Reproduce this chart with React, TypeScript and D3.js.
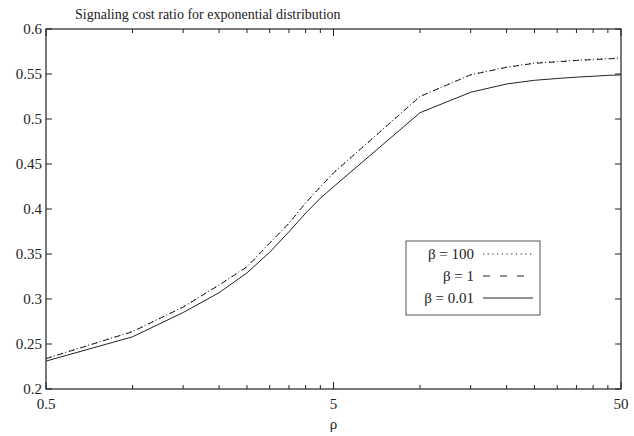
import React from 'react';
import * as d3 from 'd3';

// rho values (log axis)
const rho = [0.5, 1, 1.5, 2, 2.5, 3, 3.5, 4, 4.5, 5, 10, 15, 20, 25, 30, 35, 40, 45, 50];
const beta100 = [0.2340, 0.2640, 0.2913, 0.3158, 0.3360, 0.3623, 0.3843, 0.4070, 0.4247, 0.4403, 0.5253, 0.5493, 0.5577, 0.5622, 0.5638, 0.5653, 0.5663, 0.5671, 0.5677];
const beta1 = [0.2337, 0.2637, 0.2910, 0.3155, 0.3356, 0.3620, 0.3840, 0.4067, 0.4244, 0.4400, 0.5250, 0.5490, 0.5574, 0.5619, 0.5635, 0.5650, 0.5660, 0.5668, 0.5674];
const beta001 = [0.2310, 0.2580, 0.2850, 0.3070, 0.3290, 0.3520, 0.3747, 0.3953, 0.4120, 0.4247, 0.5070, 0.5297, 0.5389, 0.5430, 0.5450, 0.5465, 0.5475, 0.5485, 0.5490];

const yTicks = [0.2, 0.25, 0.3, 0.35, 0.4, 0.45, 0.5, 0.55, 0.6];
const yTickLabels = ['0.2', '0.25', '0.3', '0.35', '0.4', '0.45', '0.5', '0.55', '0.6'];
const xMajor = [0.5, 5, 50];
const xMajorLabels = ['0.5', '5', '50'];
const xMinor = [1, 1.5, 2, 2.5, 3, 3.5, 4, 4.5, 10, 15, 20, 25, 30, 35, 40, 45];

const series = [
  { label: 'β = 100', values: beta100, dash: '1.2,2.8' },
  { label: 'β = 1', values: beta1, dash: '6,6' },
  { label: 'β = 0.01', values: beta001, dash: null },
];

const W = 634;
const H = 436;
const m = { left: 46, right: 621, top: 29, bottom: 389 };
const font = '"Liberation Serif", "DejaVu Serif", serif';
const ink = '#222';

export default function App() {
  const x = d3.scaleLog().domain([0.5, 50]).range([m.left, m.right]);
  const y = d3.scaleLinear().domain([0.2, 0.6]).range([m.bottom, m.top]);

  const line = (vals: number[]) =>
    d3.line<number>()
      .x((_, i) => x(rho[i]))
      .y((d) => y(d))(vals) || '';

  const legendX = 406;
  const legendY = 241;
  const rowY = [254, 276, 298];

  return (
    <svg width={W} height={H} style={{ position: 'absolute', left: 0, top: 0, background: '#fff' }}>
      <rect x={0} y={0} width={W} height={H} fill="#fff" />
      <text x={75} y={19} fontFamily={font} fontSize={14} fill={ink}>
        Signaling cost ratio for exponential distribution
      </text>

      {/* y ticks, both sides */}
      {yTicks.map((t, i) => (
        <g key={'y' + i}>
          <line x1={m.left} x2={m.left + 6} y1={y(t)} y2={y(t)} stroke={ink} />
          <line x1={m.right} x2={m.right - 6} y1={y(t)} y2={y(t)} stroke={ink} />
          <text x={42} y={y(t) + 5} textAnchor="end" fontFamily={font} fontSize={15} fill={ink}>
            {yTickLabels[i]}
          </text>
        </g>
      ))}

      {/* x ticks, top and bottom */}
      {xMinor.map((t, i) => (
        <g key={'xm' + i}>
          <line x1={x(t)} x2={x(t)} y1={m.bottom} y2={m.bottom - 4} stroke={ink} />
          <line x1={x(t)} x2={x(t)} y1={m.top} y2={m.top + 4} stroke={ink} />
        </g>
      ))}
      {xMajor.map((t, i) => (
        <g key={'xM' + i}>
          <line x1={x(t)} x2={x(t)} y1={m.bottom} y2={m.bottom - 7} stroke={ink} />
          <line x1={x(t)} x2={x(t)} y1={m.top} y2={m.top + 7} stroke={ink} />
          <text x={x(t)} y={409} textAnchor="middle" fontFamily={font} fontSize={15} fill={ink}>
            {xMajorLabels[i]}
          </text>
        </g>
      ))}
      <text x={(m.left + m.right) / 2} y={429} textAnchor="middle" fontFamily={font} fontSize={15} fill={ink}>
        ρ
      </text>

      {/* frame */}
      <rect x={m.left} y={m.top} width={m.right - m.left} height={m.bottom - m.top}
        fill="none" stroke={ink} strokeWidth={1.2} />

      {/* lines */}
      {series.map((s, i) => (
        <path key={'s' + i} d={line(s.values)} fill="none" stroke={ink} strokeWidth={1}
          strokeDasharray={s.dash || undefined} />
      ))}

      {/* legend */}
      <rect x={legendX} y={legendY} width={134} height={74} fill="#fff" stroke="#555" strokeWidth={1} />
      {series.map((s, i) => (
        <g key={'l' + i}>
          <text x={474} y={rowY[i] + 5} textAnchor="end" fontFamily={font} fontSize={15} fill={ink}>
            {s.label}
          </text>
          <line x1={483} x2={533} y1={rowY[i]} y2={rowY[i]} stroke={ink} strokeWidth={1}
            strokeDasharray={s.dash ? (i === 1 ? '7,10' : '1.2,3.5') : undefined} />
        </g>
      ))}
    </svg>
  );
}
